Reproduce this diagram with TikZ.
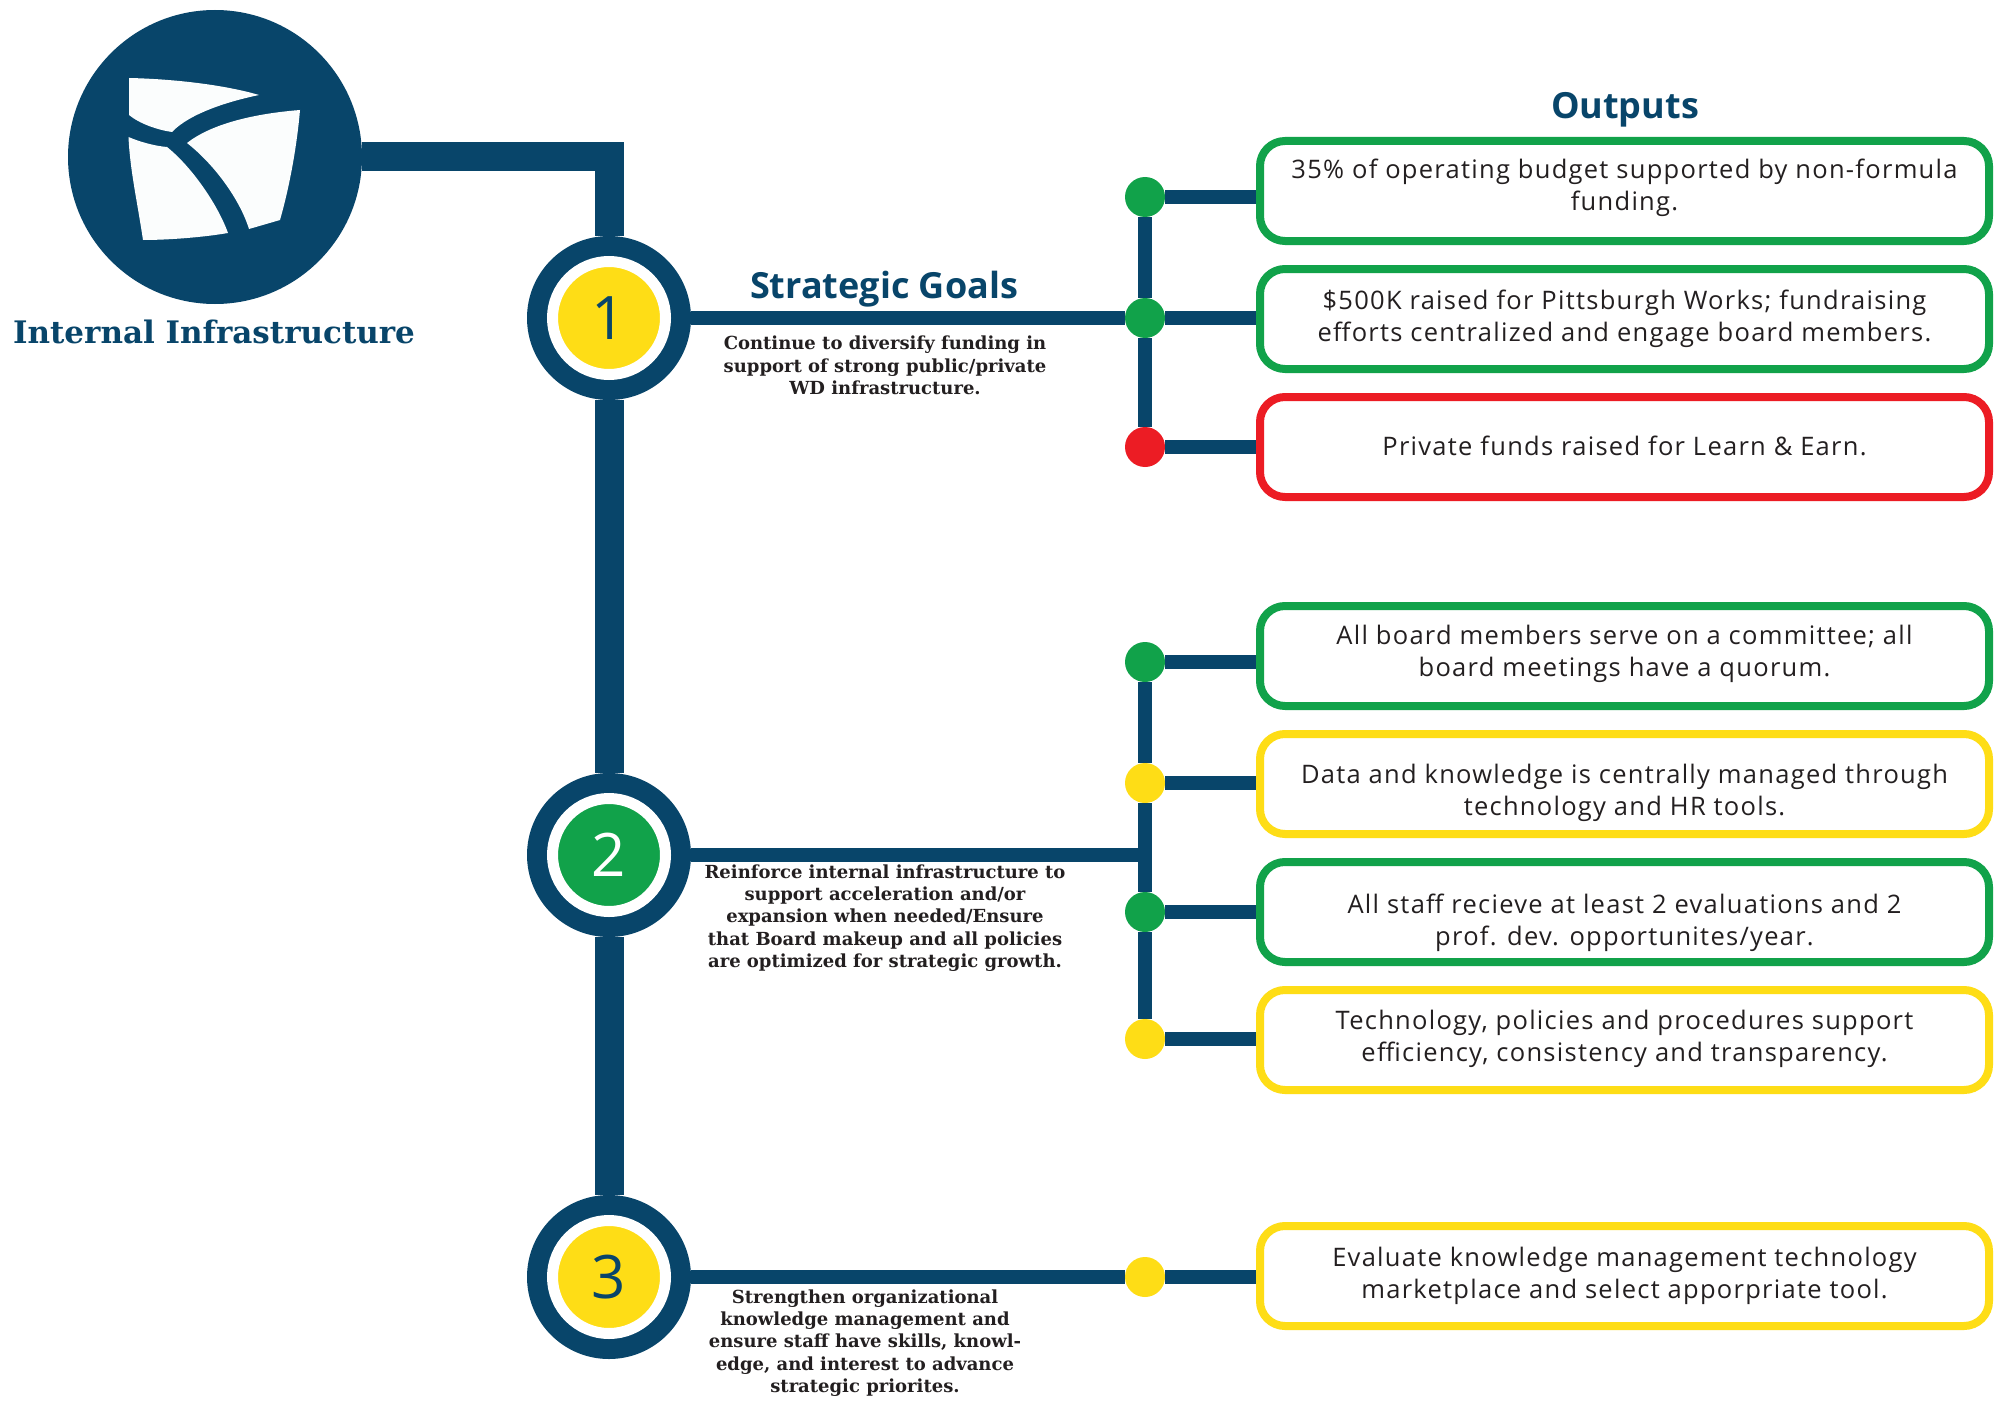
\documentclass[tikz,border=0pt]{standalone}
\usepackage{fontspec}
\setmainfont{Open Sans}
\newfontfamily\boxfont{Open Sans}[LetterSpace=5]
\newfontfamily\numfont{Open Sans}
\newfontfamily\headfont{Open Sans}
\newfontfamily\titlefont{DejaVu Serif}
\newfontfamily\descfont{DejaVu Serif}
\definecolor{navy}{HTML}{08456A}
\definecolor{okgreen}{HTML}{11A24A}
\definecolor{okyellow}{HTML}{FEDD16}
\definecolor{okred}{HTML}{EC1C24}
\definecolor{textdark}{HTML}{231F20}
\definecolor{logowhite}{HTML}{FBFDFD}
\begin{document}
\begin{tikzpicture}[x=1pt,y=-1pt,
  trunk/.style={draw=navy, line width=29pt, line join=miter},
  branch/.style={draw=navy, line width=14pt},
  ring/.style={circle, fill=navy, minimum size=164pt, inner sep=0pt, outer sep=0pt},
  core/.style={circle, draw=white, line width=11pt, minimum size=113pt, inner sep=0pt,
    font=\numfont\fontsize{60}{60}\selectfont},
  dot/.style={circle, minimum size=40pt, inner sep=0pt, outer sep=0pt},
  outbox/.style={draw, rounded corners=25pt, line width=8pt, minimum width=729pt,
    minimum height=100pt, inner sep=0pt},
  outtext/.style={align=center, inner sep=0pt, text=textdark,
    font=\boxfont\fontsize{25.5}{32}\selectfont},
  desc/.style={align=center, inner sep=0pt, text=textdark,
    font=\descfont\bfseries\fontsize{18}{22.3}\selectfont},
  heading/.style={inner sep=0pt, anchor=base, text=navy,
    font=\headfont\bfseries\fontsize{36}{40}\selectfont}
]
\useasboundingbox (0,0) rectangle (2003,1402);
\fill[white] (0,0) rectangle (2003,1402);

% logo
\node[circle, fill=navy, minimum size=294pt, inner sep=0pt, outer sep=0pt] (logo) at (215,157) {};
\fill[logowhite] (129,78) .. controls (175,79) and (225,85) .. (259,95)
  .. controls (230,101) and (190,113) .. (172,132)
  .. controls (158,130) and (140,124) .. (129,115) -- cycle;
\fill[logowhite] (187,143) .. controls (210,125) and (250,114) .. (300,110)
  .. controls (297,145) and (290,185) .. (280,220)
  -- (249,229)
  .. controls (240,200) and (215,165) .. (187,143) -- cycle;
\fill[logowhite] (128.5,137) .. controls (140,142) and (155,146) .. (167,147)
  .. controls (192,167) and (218,205) .. (228,233)
  .. controls (205,237) and (170,240) .. (143,240)
  .. controls (137,200) and (130,170) .. (128.5,137) -- cycle;
\node[inner sep=0pt, anchor=base, text=navy,
  font=\titlefont\bfseries\fontsize{31}{36}\selectfont] (ttl) at (214,343) {Internal Infrastructure};

% goal circles
\node[ring] (c1) at (609,318) {};
\node[core, fill=okyellow, text=navy] (n1) at (c1) {1};
\node[ring] (c2) at (609,855) {};
\node[core, fill=okgreen, text=white] (n2) at (c2) {2};
\node[ring] (c3) at (609,1277) {};
\node[core, fill=okyellow, text=navy] (n3) at (c3) {3};

\draw[trunk] (logo.east) -| (c1.north);
\draw[trunk] (c1.south) -- (c2.north);
\draw[trunk] (c2.south) -- (c3.north);

% headings
\node[heading] (sg) at (884,298) {Strategic Goals};
\node[heading] (out) at (1625,119) {Outputs};

% descriptions
\node[desc] (g1) at (885,365.5) {Continue to diversify funding in\\support of strong public/private\\WD infrastructure.};
\node[desc] (g2) at (885,918) {Reinforce internal infrastructure to\\support acceleration and/or\\expansion when needed/Ensure\\that Board makeup and all policies\\are optimized for strategic growth.};
\node[desc] (g3) at (865,1343) {Strengthen organizational\\knowledge management and\\ensure staff have skills, knowl-\\edge, and interest to advance\\strategic priorites.};

% output boxes
\node[outbox, draw=okgreen] (b1) at (1624.5,191) {};
\node[outbox, draw=okgreen] (b2) at (1624.5,319) {};
\node[outbox, draw=okred] (b3) at (1624.5,447) {};
\node[outbox, draw=okgreen] (b4) at (1624.5,656) {};
\node[outbox, draw=okyellow] (b5) at (1624.5,784) {};
\node[outbox, draw=okgreen] (b6) at (1624.5,912) {};
\node[outbox, draw=okyellow] (b7) at (1624.5,1040) {};
\node[outbox, draw=okyellow] (b8) at (1624.5,1276) {};

\node[outtext] (t1) at ([yshift=3.5pt]b1.center) {35\% of operating budget supported by non-formula\\funding.};
\node[outtext] (t2) at (b2.center) {\$500K raised for Pittsburgh Works; fundraising\\efforts centralized and engage board members.};
\node[outtext] (t3) at ([yshift=1.5pt]b3.center) {Private funds raised for Learn \& Earn.};
\node[outtext] (t4) at ([yshift=2.5pt]b4.center) {All board members serve on a committee; all\\board meetings have a quorum.};
\node[outtext] (t5) at ([yshift=-8.5pt]b5.center) {Data and knowledge is centrally managed through\\technology and HR tools.};
\node[outtext] (t6) at ([yshift=-11pt]b6.center) {All staff recieve at least 2 evaluations and 2\\prof. dev. opportunites/year.};
\node[outtext] (t7) at ([yshift=1pt]b7.center) {Technology, policies and procedures support\\efficiency, consistency and transparency.};
\node[outtext] (t8) at (b8.center) {Evaluate knowledge management technology\\marketplace and select apporpriate tool.};

% dots
\node[dot, fill=okgreen] (d1) at (1145,197) {};
\node[dot, fill=okgreen] (d2) at (1145,318) {};
\node[dot, fill=okred] (d3) at (1145,447) {};
\node[dot, fill=okgreen] (d4) at (1145,662) {};
\node[dot, fill=okyellow] (d5) at (1145,783) {};
\node[dot, fill=okgreen] (d6) at (1145,912) {};
\node[dot, fill=okyellow] (d7) at (1145,1039) {};
\node[dot, fill=okyellow] (d8) at (1145,1277) {};

% goal lines
\draw[branch] (c1.east) -- (d2.west);
\draw[branch] (c2.east) -- (c2.east -| d4.center);
\draw[branch] (c3.east) -- (d8.west);

% branch verticals
\draw[branch] (d1.south) -- (d2.north);
\draw[branch] (d2.south) -- (d3.north);
\draw[branch] (d4.south) -- (d5.north);
\draw[branch] (d5.south) -- (d6.north);
\draw[branch] (d6.south) -- (d7.north);

% stubs
\foreach \i in {1,...,8} {
  \draw[branch] (d\i.east) -- (d\i.center -| b\i.west);
}
\end{tikzpicture}
\end{document}
